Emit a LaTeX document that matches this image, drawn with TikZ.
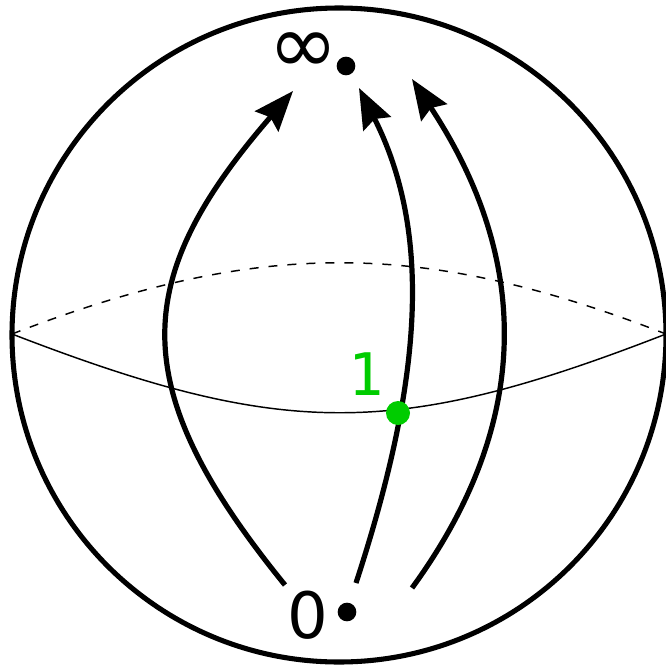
\documentclass[tikz,border=0pt]{standalone}
\usepackage{fontspec}
\setsansfont{DejaVu Sans}
\newfontfamily\monofont{DejaVu Sans Mono}
\usetikzlibrary{arrows.meta}
\definecolor{ptgreen}{RGB}{0,204,0}

\begin{document}
\begin{tikzpicture}[x=0.75pt, y=-0.75pt, font=\sffamily, dot/.style={circle, fill=black, inner sep=0pt, minimum size=14pt}, lab/.style={inner sep=0pt, font=\fontsize{48}{48}\selectfont\sffamily}, flow/.style={line width=3.9pt, -{Stealth[length=30pt, width=23pt, inset=4pt]}}]
\useasboundingbox (0,0) rectangle (666,668);
% sphere and its equator
\draw[line width=3.8pt] (339,335) circle[radius=327];
\coordinate (eqL) at (12,334);
\coordinate (eqR) at (666,334);
\draw[line width=1.1pt] (eqL) .. controls (284,439) and (396,439) .. (eqR);
\draw[line width=1.1pt, dashed, dash pattern=on 6.75pt off 7.5pt] (eqL) .. controls (258,239) and (422,239) .. (eqR);
% poles
\node[dot] (inf) at (346,66) {};
\node[dot] (zero) at (347,612) {};
\node[lab, font=\fontsize{63}{63}\selectfont\sffamily] (inflab) at (303.5,53) {∞};
\node[lab, anchor=base] (zerolab) at (307.5,638) {0};
% flow lines from 0 to infinity
\coordinate (s1) at (285,585);
\coordinate (t1) at (293,91);
\coordinate (s2) at (356,583);
\coordinate (t2) at (359,88);
\coordinate (s3) at (412,588);
\coordinate (t3) at (412,79);
\draw[flow] (s1) .. controls (123,386) and (131,278) .. (t1);
\draw[flow] (s2) .. controls (418,393) and (436,240) .. (t2);
\draw[flow] (s3) .. controls (536,418) and (528,255) .. (t3);
% the point 1
\node[dot, fill=ptgreen, minimum size=18pt] (one) at (398,413) {};
\node[inner sep=0pt, anchor=base, text=ptgreen, font=\fontsize{44}{44}\selectfont\monofont] (onelab) at (366.5,395) {1};
\end{tikzpicture}
\end{document}
